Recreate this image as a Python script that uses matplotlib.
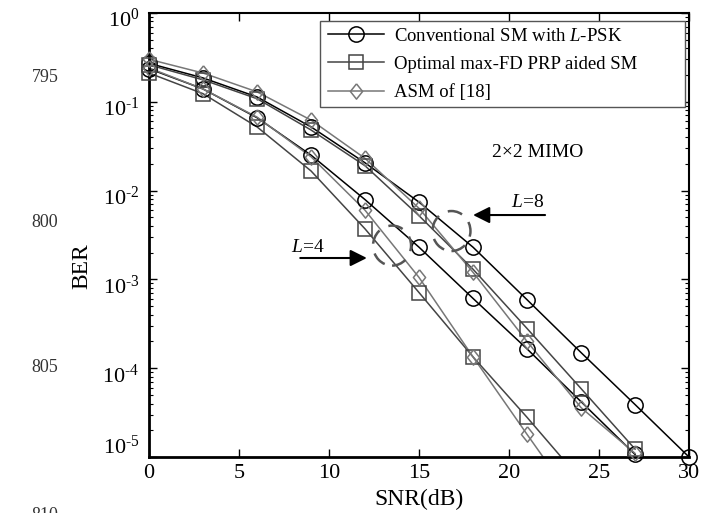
import matplotlib
matplotlib.use("Agg")
import matplotlib.pyplot as plt
import matplotlib.transforms as mtransforms
from matplotlib.lines import Line2D
from matplotlib.patches import Ellipse, Rectangle
from matplotlib.ticker import FixedLocator, FixedFormatter
import numpy as np

plt.rcParams["font.family"] = ["Liberation Serif", "DejaVu Serif"]
plt.rcParams["mathtext.fontset"] = "custom"
plt.rcParams["mathtext.rm"] = "Liberation Serif"
plt.rcParams["mathtext.it"] = "Liberation Serif:italic"
plt.rcParams["axes.unicode_minus"] = False

# SNR grid (dB)
snr = [0, 3, 6, 9, 12, 15, 18, 21, 24, 27, 30]

# BER values
conv_L8 = [0.27, 0.185, 0.113, 0.052, 0.0205, 7.4e-3, 2.3e-3, 5.9e-4, 1.5e-4, 3.9e-5, 1.0e-5]
conv_L4 = [0.235, 0.139, 0.066, 0.025, 7.9e-3, 2.3e-3, 6.1e-4, 1.65e-4, 4.2e-5, 1.07e-5]
opt_L8 = [0.26, 0.176, 0.108, 0.048, 0.019, 5.2e-3, 1.3e-3, 2.8e-4, 5.9e-5, 1.23e-5]
opt_L4 = [0.21, 0.123, 0.052, 0.0166, 3.7e-3, 7.1e-4, 1.34e-4, 2.8e-5, 5.5e-6]
asm_L8 = [0.30, 0.21, 0.129, 0.062, 0.023, 6.3e-3, 1.2e-3, 2.0e-4, 3.6e-5, 1.1e-5]
asm_L4 = [0.24, 0.139, 0.067, 0.024, 6.0e-3, 1.05e-3, 1.34e-4, 1.8e-5, 2.5e-6]

labels = ["Conventional SM with $L$-PSK", "Optimal max-FD PRP aided SM", "ASM of [18]"]
decades = [0, -1, -2, -3, -4, -5]
ylow = 1e-5

diamond = [(0, 1), (0.8, 0), (0, -1), (-0.8, 0), (0, 1)]
styles = [
    dict(color="black", marker="o", ms=11),
    dict(color="#444444", marker="s", ms=9.5),
    dict(color="#777777", marker=diamond, ms=11),
]

fig = plt.figure(figsize=(7.01, 5.13), dpi=100)
ax = fig.add_axes([0.2126, 0.109, 0.7704, 0.866])


def draw(ber, st):
    x = np.array(snr[:len(ber)], dtype=float)
    y = np.array(ber)
    ax.plot(x, y, color=st["color"], lw=1.1)
    keep = y >= ylow * 0.99
    ax.plot(x[keep], y[keep], ls="none", marker=st["marker"], ms=st["ms"],
            mfc="none", mec=st["color"], mew=1.1, clip_on=False, zorder=3)


for ber, st in [(conv_L8, styles[0]), (conv_L4, styles[0]),
                (opt_L8, styles[1]), (opt_L4, styles[1]),
                (asm_L8, styles[2]), (asm_L4, styles[2])]:
    draw(ber, st)

ax.set_yscale("log")
ax.set_xlim(0, 30)
ax.set_ylim(ylow, 1)
ax.set_xticks([0, 5, 10, 15, 20, 25, 30])
ax.yaxis.set_major_locator(FixedLocator([10.0 ** d for d in decades]))
ax.yaxis.set_major_formatter(FixedFormatter(
    ["$10^{%d}$" % d if d == 0 else "$10^{\\text{-}%d}$" % -d for d in decades]))
ax.tick_params(which="both", direction="in", top=True, right=True, labelsize=16)
ax.tick_params(which="major", length=6, width=1)
ax.tick_params(which="minor", length=3, width=0.8)
ax.tick_params(axis="y", pad=7)
ax.tick_params(axis="x", pad=5)
for s in ["left", "bottom"]:
    ax.spines[s].set_linewidth(2)
for s in ["top", "right"]:
    ax.spines[s].set_linewidth(1.5)

# MATLAB-like placement of the exponent labels
for lab, d in zip(ax.get_yticklabels(), decades):
    dy = 12 if d == -5 else -5
    lab.set_transform(lab.get_transform() +
                      mtransforms.ScaledTranslation(0, dy / 100, fig.dpi_scale_trans))

ax.set_xlabel("SNR(dB)", fontsize=17, labelpad=4)
ax.set_ylabel("BER", fontsize=17)
ax.yaxis.set_label_coords(-0.105, 0.43)

handles = [Line2D([], [], color=st["color"], lw=1.1, marker=st["marker"], ms=st["ms"],
                  mfc="none", mec=st["color"], mew=1.1) for st in styles]
leg = ax.legend(handles, labels, loc="upper left", bbox_to_anchor=(0.331, 0.967),
                borderaxespad=0, borderpad=0, fontsize=13.5, handlelength=3.0,
                handletextpad=0.55, labelspacing=0.6, frameon=False)
ax.add_patch(Rectangle((0.317, 0.788), 0.676, 0.194, transform=ax.transAxes,
                       facecolor="white", edgecolor="#555555", lw=1.0, zorder=4.5))
leg.set_zorder(5)

ax.text(21.6, 0.027, "2\u00d72 MIMO", fontsize=14, ha="center", va="center")
ax.text(21.0, 7.4e-3, "$L$=8", fontsize=14, ha="center", va="center")
ax.text(8.8, 2.3e-3, "$L$=4", fontsize=14, ha="center", va="center")

arrow = dict(arrowstyle="-|>,head_length=0.5,head_width=0.25", color="black",
             lw=1.5, shrinkA=0, shrinkB=0, mutation_scale=20)
ax.annotate("", xy=(18.0, 5.3e-3), xytext=(22.0, 5.3e-3), arrowprops=arrow)
ax.annotate("", xy=(12.1, 1.74e-3), xytext=(8.4, 1.74e-3), arrowprops=arrow)

for xc, yc in [(16.8, 3.5e-3), (13.5, 2.4e-3)]:
    tr = fig.dpi_scale_trans + mtransforms.ScaledTranslation(xc, yc, ax.transData)
    ax.add_patch(Ellipse((0, 0), 0.38, 0.40, transform=tr, fill=False,
                         edgecolor="#555555", lw=1.8, ls=(0, (6, 4)), zorder=4))

# page line numbers at the left margin
for num, ypix in [("795", 78), ("800", 223), ("805", 368), ("810", 515)]:
    fig.text(45 / 701, 1 - ypix / 513, num, fontsize=13, color="#333333",
             ha="center", va="center")

fig.savefig("out.png", dpi=100)
